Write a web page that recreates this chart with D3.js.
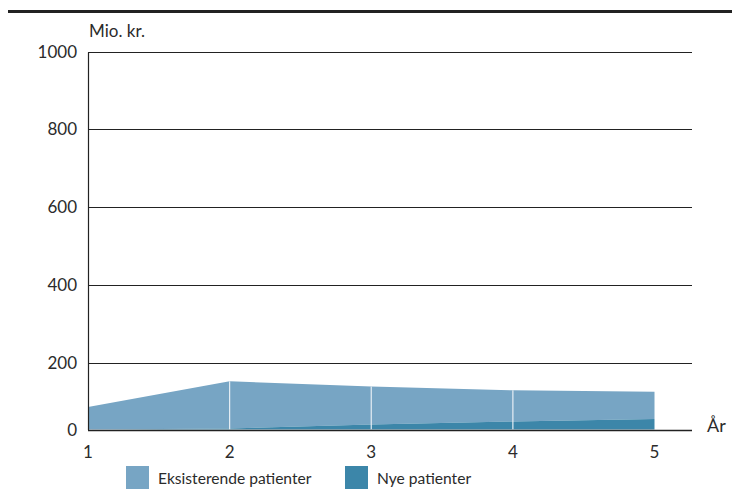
<!DOCTYPE html>
<html>
<head>
<meta charset="utf-8">
<script src="https://cdn.jsdelivr.net/npm/d3@7"></script>
<style>
  body { margin: 0; background: #fff; }
  svg text { font-family: Lato, "Open Sans", sans-serif; fill: #2b2b2b; }
</style>
</head>
<body>
<svg id="chart" width="732" height="499"></svg>
<script>
// Years and the two stacked series (Mio. kr.)
const years = [1, 2, 3, 4, 5];
const existing = [67, 141, 113, 93, 82];
const newPatients = [0, 3, 15, 24, 31];
const yTicks = [0, 200, 400, 600, 800, 1000];
const seriesNames = ["Eksisterende patienter", "Nye patienter"];
const seriesColors = ["#77a5c4", "#3c86a9"];

const svg = d3.select("#chart");

const x = d3.scaleLinear().domain([1, 5]).range([88, 654.5]);
// The value axis has a compressed first interval below 200
const y = d3.scaleLinear().domain([0, 200, 1000]).range([429.5, 362.5, 51.5]);
const xEnd = 692;

// Top rule
svg.append("rect").attr("x", 8).attr("y", 10).attr("width", 724).attr("height", 3).attr("fill", "#222");

// Gridlines
svg.append("g").selectAll("line").data(yTicks.filter(d => d > 0)).join("line")
  .attr("x1", x(1)).attr("x2", xEnd)
  .attr("y1", d => Math.round(y(d)) + 0.5).attr("y2", d => Math.round(y(d)) + 0.5)
  .attr("stroke", "#222").attr("stroke-width", 1);

// Stacked areas
const rows = years.map((yr, i) => ({ year: yr, ny: newPatients[i], eks: existing[i] }));
const stack = d3.stack().keys(["ny", "eks"]);
const layers = stack(rows);
const area = d3.area()
  .x(d => x(d.data.year))
  .y0(d => y(d[0]))
  .y1(d => y(d[1]));

// Existing patients stacked on top of new ones
svg.append("path").datum(layers[1]).attr("d", area).attr("fill", seriesColors[0]);
svg.append("path").datum(layers[0]).attr("d", area).attr("fill", seriesColors[1]);

// Thin white separators at inner years
svg.append("g").selectAll("line").data(rows.slice(1, -1)).join("line")
  .attr("x1", d => x(d.year)).attr("x2", d => x(d.year))
  .attr("y1", y(0)).attr("y2", d => y(d.ny + d.eks))
  .attr("stroke", "#e6eef4").attr("stroke-width", 1.2);

// Axes lines
svg.append("line").attr("x1", x(1) + 0.5).attr("x2", x(1) + 0.5)
  .attr("y1", Math.round(y(1000)) + 0.5).attr("y2", y(0) + 0.5)
  .attr("stroke", "#222").attr("stroke-width", 1.2);
svg.append("line").attr("x1", x(1)).attr("x2", xEnd)
  .attr("y1", Math.round(y(0)) + 0.5).attr("y2", Math.round(y(0)) + 0.5)
  .attr("stroke", "#222").attr("stroke-width", 1.5);

// Y tick labels
svg.append("g").selectAll("text").data(yTicks).join("text")
  .attr("x", 77).attr("y", d => y(d) + 6)
  .attr("text-anchor", "end").attr("font-size", 17)
  .text(d => d);

// X tick labels
svg.append("g").selectAll("text").data(years).join("text")
  .attr("x", d => x(d)).attr("y", 458)
  .attr("text-anchor", "middle").attr("font-size", 17)
  .text(d => d);

// Axis titles
svg.append("text").attr("x", 89).attr("y", 37).attr("font-size", 17).text("Mio. kr.");
svg.append("text").attr("x", 707).attr("y", 432).attr("font-size", 18).text("År");

// Legend
const legendX = [126, 345];
const lg = svg.append("g").selectAll("g").data(seriesNames).join("g")
  .attr("transform", (d, i) => `translate(${legendX[i]},466)`);
lg.append("rect").attr("width", 23).attr("height", 23).attr("fill", (d, i) => seriesColors[i]);
lg.append("text").attr("x", 32).attr("y", 18).attr("font-size", 15.6).text(d => d);
</script>
</body>
</html>
